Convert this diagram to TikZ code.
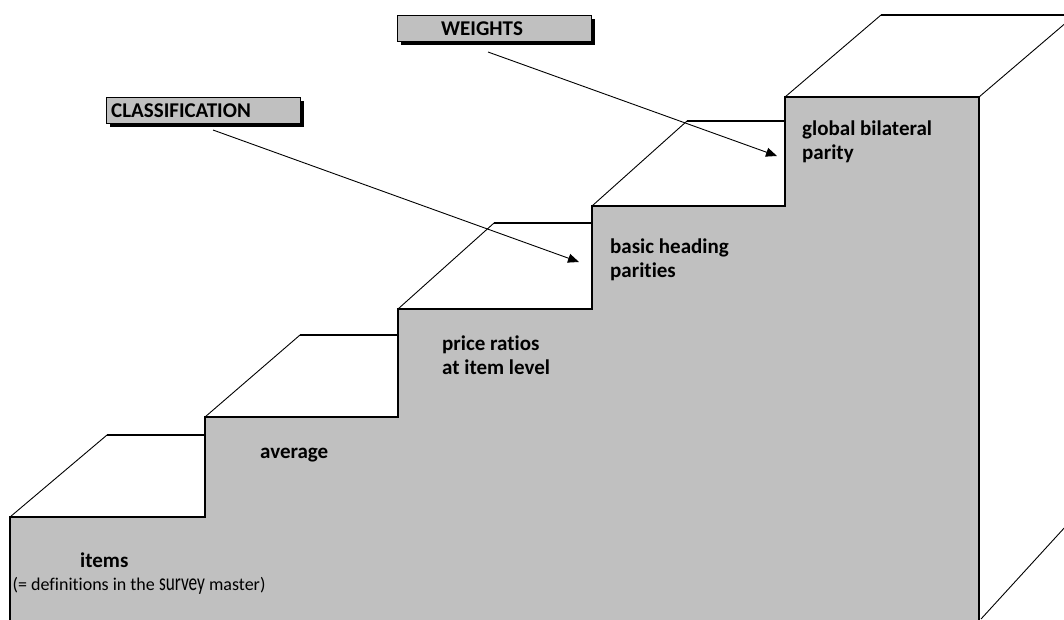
\documentclass[tikz,border=0pt]{standalone}
\usepackage{fontspec}
\setmainfont{Carlito}[RawFeature={-liga}]
\usepackage{graphicx}
\usetikzlibrary{arrows.meta,shadows}
\definecolor{stepgray}{HTML}{C0C0C0}
\begin{document}
\begin{tikzpicture}[x=1pt,y=-1pt,
  outline/.style={line width=2pt, line join=miter},
  edgeline/.style={line width=0.9pt},
  pointer/.style={line width=0.9pt, -{Triangle[length=11pt,width=9pt]}},
  steplabel/.style={font=\bfseries\fontsize{21}{23.5}\selectfont, anchor=base west, align=left, inner sep=0pt},
  tagbox/.style={draw, line width=1.2pt, fill=stepgray, minimum height=26pt, minimum width=194pt, inner sep=0pt, anchor=north west,
    drop shadow={shadow xshift=3pt, shadow yshift=-3pt, fill=black, opacity=1}},
  tagtext/.style={font=\bfseries\fontsize{21}{24}\selectfont, anchor=west, inner sep=0pt}]
\useasboundingbox (0,0) rectangle (1064,619);
\clip (0,0) rectangle (1064,619);
% front of the staircase
\fill[stepgray] (10,625) -- (10,517) -- (205,517) -- (205,417) -- (398,417) -- (398,309) -- (592,309) -- (592,206) -- (785,206) -- (785,97) -- (979,97) -- (979,625) -- cycle;
\draw[outline] (10,625) -- (10,517) -- (205,517) -- (205,417) -- (398,417) -- (398,309) -- (592,309) -- (592,206) -- (785,206) -- (785,97) -- (979,97) -- (979,625);
% treads
\draw[edgeline] (10,517) -- (107,435);
\draw[outline] (107,435) -- (205,435);
\draw[edgeline] (205,417) -- (300,335);
\draw[outline] (300,335) -- (398,335);
\draw[edgeline] (398,309) -- (494,223);
\draw[outline] (494,223) -- (592,223);
\draw[edgeline] (592,206) -- (687,121);
\draw[outline] (687,121) -- (785,121);
\draw[edgeline] (785,97) -- (881,15);
\draw[outline] (881,15) -- (1070,15);
\draw[edgeline] (979,97) -- (1068,21);
\draw[edgeline] (981,619) -- (1066,526);
% labels on the steps
\node[steplabel] (items) at (80,567) {items};
\node[anchor=base west, inner sep=0pt, font=\fontsize{18}{21}\selectfont] (def) at (12.5,590) {(= definitions in the \scalebox{0.72}[1]{\fontsize{24}{24}\selectfont survey} master)};
\node[steplabel] (avg) at (260,458) {average};
\node[steplabel] (ratio) at (442,374) {price ratios\\at item level};
\node[steplabel] (basic) at (610,277) {basic heading\\parities};
\node[steplabel] (global) at (802,159) {global bilateral\\parity};
% tags
\node[tagbox] (wbox) at (397,15) {};
\node[tagtext] (wtext) at (441,28.5) {WEIGHTS};
\node[tagbox] (cbox) at (106,97) {};
\node[tagtext] (ctext) at (111,111) {CLASSIFICATION};
% arrows
\coordinate (wfrom) at (488,52);
\coordinate (wto) at (777,156);
\coordinate (cfrom) at (213,130);
\coordinate (cto) at (579,262);
\draw[pointer] (wfrom) -- (wto);
\draw[pointer] (cfrom) -- (cto);
\end{tikzpicture}
\end{document}
